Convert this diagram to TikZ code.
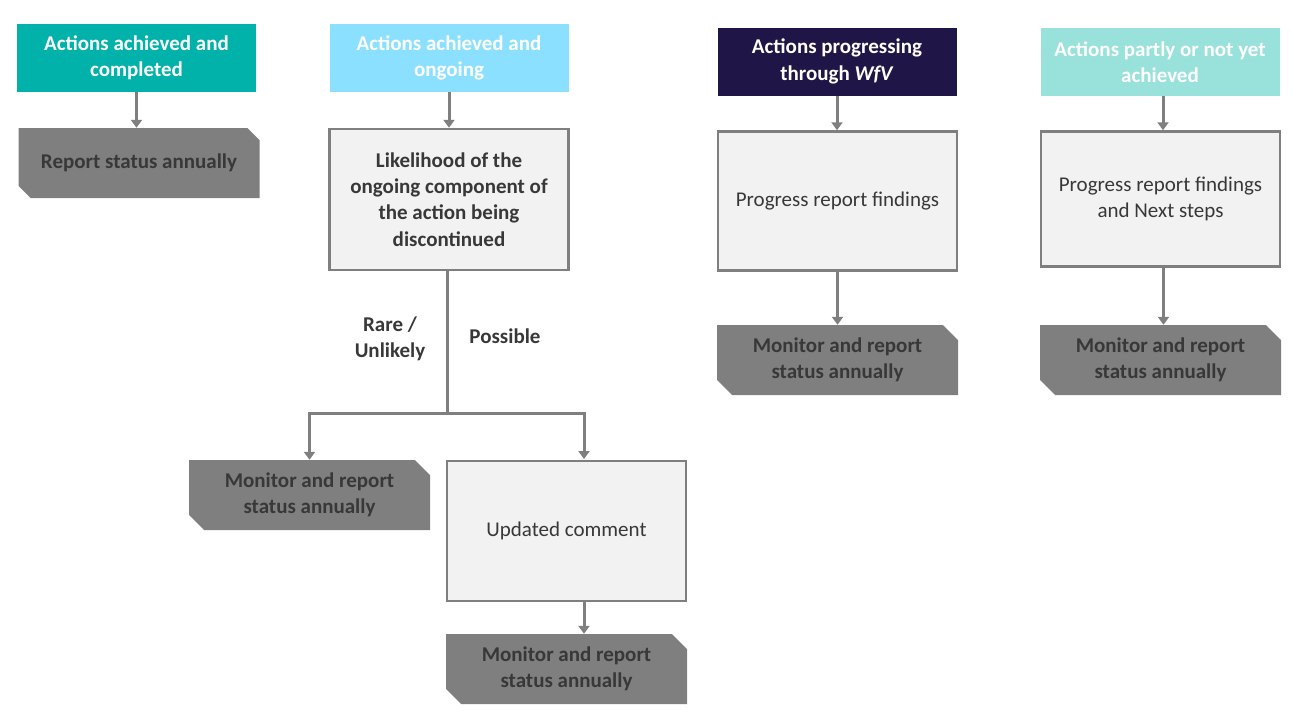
\documentclass[tikz,border=0pt]{standalone}
\usepackage{fontspec}
\setmainfont{Carlito}
\usetikzlibrary{shapes.misc,arrows.meta}
\definecolor{headteal}{HTML}{00B2A9}
\definecolor{headsky}{HTML}{8BE0FF}
\definecolor{headnavy}{HTML}{201547}
\definecolor{headaqua}{HTML}{99E1DB}
\definecolor{boxgrey}{HTML}{7F7F7F}
\definecolor{boxlight}{HTML}{F2F2F2}
\definecolor{linegrey}{HTML}{7F7F7F}
\definecolor{darktext}{HTML}{383838}

\begin{document}
\begin{tikzpicture}[x=1pt, y=-1pt, font=\fontsize{21}{26.3}\selectfont,
			head/.style={fill=#1, text=white, font=\fontsize{21}{26.3}\selectfont\bfseries,
				minimum width=239pt, minimum height=68pt, inner sep=0pt, align=center},
			greybox/.style={chamfered rectangle, chamfered rectangle corners={north east,south west},
				chamfered rectangle xsep=12pt, fill=boxgrey, text=darktext,
				font=\fontsize{21}{26.3}\selectfont\bfseries,
				minimum width=241pt, minimum height=70pt, inner sep=0pt, align=center},
			lightbox/.style={draw=linegrey, line width=2.5pt, fill=boxlight, text=darktext,
				minimum width=239pt, inner sep=0pt, align=center},
			branch/.style={text=darktext, font=\fontsize{21}{26.3}\selectfont\bfseries, align=center},
			arr/.style={draw=linegrey, line width=3pt, -{Triangle[width=11pt,length=8pt]}}]
		\useasboundingbox (0,0) rectangle (1293,713);

		\node[head=headteal] (h1) at (136.5,58) {Actions achieved and\\ completed};
		\node[greybox] (g1) at (139,163) {Report status annually};

		\node[head=headsky] (h2) at (449,58) {Actions achieved and\\ ongoing};
		\node[lightbox, minimum height=141pt, font=\fontsize{21}{26.3}\selectfont\bfseries] (lik) at (449,199.5)
			{Likelihood of the\\ ongoing component of\\ the action being\\ discontinued};
		\coordinate (split) at (447,413);
		\node[branch] (rare) at (390,339) {Rare /\\ Unlikely};
		\node[branch] (poss) at (505,336) {Possible};
		\node[greybox] (ga) at (309.5,495) {Monitor and report\\ status annually};
		\node[lightbox, minimum height=140pt] (upd) at (566.5,531) {Updated comment};
		\coordinate (updin) at (584,459);
		\node[greybox] (gb) at (566.5,669) {Monitor and report\\ status annually};

		\node[head=headnavy] (h3) at (837,61.5) {Actions progressing\\ through \textit{WfV}};
		\node[lightbox, minimum height=139pt] (prog) at (837.5,201) {Progress report findings};
		\node[greybox] (gc) at (837.5,360) {Monitor and report\\ status annually};

		\node[head=headaqua] (h4) at (1160,62) {Actions partly or not yet\\ achieved};
		\node[lightbox, minimum height=135pt] (next) at (1160.5,199) {Progress report findings\\ and Next steps};
		\node[greybox] (gd) at (1160.5,360) {Monitor and report\\ status annually};

		\draw[arr] (h1.south) -- (h1.south |- g1.north);
		\draw[arr] (h2.south) -- (h2.south |- lik.north);
		\draw[draw=linegrey, line width=3pt] (lik.south -| split) -- (split);
		\draw[arr] (split) -| (ga.north);
		\draw[arr] (split) -| (updin);
		\draw[arr] (upd.south -| updin) -- (updin |- gb.north);
		\draw[arr] (h3.south) -- (h3.south |- prog.north);
		\draw[arr] (prog.south) -- (gc.north);
		\draw[arr] ([xshift=3pt]h4.south) -- ([xshift=3pt]h4.south |- next.north);
		\draw[arr] ([xshift=3pt]next.south) -- ([xshift=3pt]next.south |- gd.north);
		\end{tikzpicture}
\end{document}
